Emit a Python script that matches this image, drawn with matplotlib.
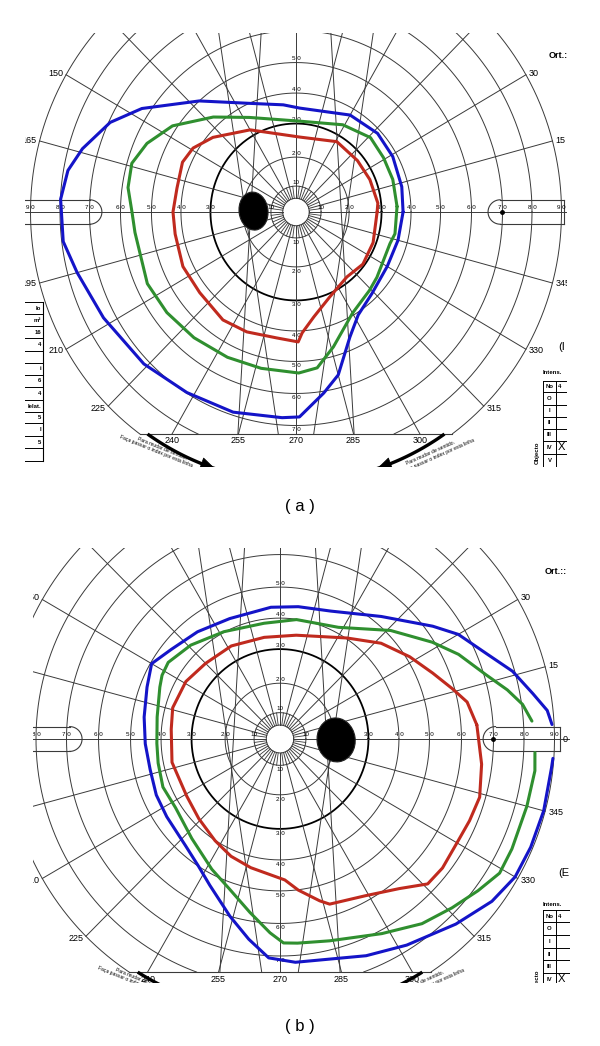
import numpy as np
import matplotlib
matplotlib.use("Agg")
import matplotlib.pyplot as plt
from matplotlib.patches import Ellipse, FancyArrowPatch

plt.rcParams["font.family"] = ["Liberation Sans", "DejaVu Sans"]

W, H = 600, 1046
GRID = "#3a3a3a"
BLUE, GREEN, RED = "#1414c8", "#2f8f2f", "#c02a1e"

# printed scale of the Goldmann form: eccentricity -> radius on the paper
ring_ecc = [0, 5, 10, 20, 30, 40, 50, 60, 70, 80, 90]
ring_pos = [0, 4.5, 8.5, 18, 29, 39, 49, 59.5, 70, 80, 90]
meridians = np.arange(0, 360, 15)

# (a) isopters: meridian (deg) and eccentricity (deg)
a_blue_mer = [0, 13, 29, 43, 60, 88, 97, 114, 132, 147, 155, 164, 170, 177, 187, 195,
              208, 224, 238, 252, 266, 271, 279, 285, 294, 302, 314, 330, 345]
a_blue_ecc = [36.3, 36.8, 37.5, 37.8, 36.7, 34.1, 35.4, 39.0, 49.0, 62.3, 69.5, 75.3, 78.5, 79.9, 79.5, 76.8,
              73.9, 71.7, 69.8, 69.0, 67.6, 67.2, 60.1, 55.3, 44.9, 39.8, 37.1, 35.7, 35.8]
a_green_mer = [3, 18, 31, 44, 61, 87, 117, 132, 146, 156, 164, 172, 180, 187, 205, 217,
               230, 244, 257, 271, 278, 286, 300, 314, 322, 342, 348]
a_green_ecc = [34.3, 34.5, 34.6, 35.1, 32.7, 29.8, 34.8, 41.9, 50.5, 55.3, 57.9, 57.5, 55.6, 55.0, 55.6, 54.8,
               53.8, 53.0, 52.6, 52.8, 51.6, 46.0, 38.3, 35.8, 34.8, 33.5, 34.3]
a_red_mer = [0, 6, 23, 39, 59, 87, 120, 139, 149, 157, 169, 180, 190, 205, 219, 235,
             247, 261, 271, 273, 280, 292, 309, 323, 339]
a_red_ecc = [27.5, 27.9, 27.2, 26.8, 26.9, 24.6, 31.1, 37.3, 40.7, 41.8, 41.1, 41.7, 41.6, 42.3, 42.0, 43.2,
             42.7, 41.8, 42.6, 39.7, 34.9, 30.2, 27.4, 28.4, 28.0]
a_blind = (-14.4, 0.3, 9.8, 12.5)  # x, y, width, height (deg)

# (b) isopters
b_blue_mer = [3, 6, 10, 16, 22, 30, 36, 50, 68, 82, 94, 113, 128, 141, 150, 159, 171, 182, 193,
              204, 214, 228, 237, 244, 254, 261, 267, 274, 292, 302, 314, 323, 330, 337, 345, 354, 356]
b_blue_ecc = [89.3, 88.1, 84.2, 79.3, 73.2, 67.5, 61.9, 51.6, 44.5, 43.1, 42.6, 42.2, 43.9, 45.9, 48.6, 46.7,
              45.1, 44.2, 43.7, 44.4, 44.8, 46.3, 49.0, 52.5, 59.5, 65.4, 70.7, 72.2, 75.4, 78.4, 83.0,
              87.0, 89.0, 89.3, 89.5, 89.5, 89.7]
b_green_mer = [4, 8, 12, 17, 25, 32, 44, 62, 82, 98, 118, 134, 146, 152, 157, 170, 182, 191, 202,
               213, 228, 242, 251, 260, 267, 271, 275, 284, 298, 308, 316, 323, 329, 335, 345, 353, 357]
b_green_ecc = [82.8, 80.3, 76.2, 70.7, 64.6, 58.9, 50.4, 40.8, 38.9, 37.7, 39.2, 42.1, 44.2, 43.8, 42.8,
               40.9, 40.4, 40.7, 41.4, 40.8, 43.2, 47.6, 51.1, 56.8, 62.6, 65.8, 66.1, 67.1, 71.1, 75.6,
               78.4, 81.3, 84.0, 83.9, 83.8, 84.2, 83.7]
b_red_mer = [4, 11, 16, 23, 32, 43, 56, 81, 99, 118, 135, 149, 164, 175, 192, 211, 224, 237, 247,
             257, 272, 277, 284, 287, 299, 309, 316, 322, 330, 337, 344, 353]
b_red_ecc = [64.7, 62.5, 58.8, 54.4, 50.1, 45.3, 39.3, 33.9, 33.2, 34.0, 34.5, 36.0, 36.6, 35.8, 36.2,
             35.7, 37.0, 39.1, 41.1, 42.6, 45.5, 49.1, 53.8, 55.7, 57.8, 62.1, 67.3, 67.6, 67.0, 67.5,
             68.1, 66.6]
b_blind = (18.4, -0.3, 12.5, 14.2)

fig = plt.figure(figsize=(W / 100, H / 100), dpi=100)


def chart_r(e):
    return np.interp(e, ring_ecc, ring_pos)


def polar_xy(mer, ecc):
    t = np.radians(mer)
    return np.asarray(ecc) * np.cos(t), np.asarray(ecc) * np.sin(t)


def make_panel(frame, center, scale):
    x0, y0, x1, y1 = frame
    cx, cy = center
    sx, sy = scale
    ax = fig.add_axes([x0 / W, 1 - y1 / H, (x1 - x0) / W, (y1 - y0) / H])
    ax.set_xlim((x0 - cx) / sx, (x1 - cx) / sx)
    ax.set_ylim((cy - y1) / sy, (cy - y0) / sy)
    ax.axis("off")

    def px(x, y):  # paper pixel -> chart degrees
        return (x - cx) / sx, (cy - y) / sy
    return ax, px, sy / sx


def ring_label(e):
    return "10" if e == 10 else f"{e // 10} 0"


def draw_chart(ax, y_cut):
    t = np.linspace(0, 2 * np.pi, 2400)
    r5 = chart_r(5)
    ax.plot(r5 * np.cos(t), r5 * np.sin(t), color=GRID, lw=0.7)
    for e in range(10, 100, 10):
        r = chart_r(e)
        x, y = r * np.cos(t), r * np.sin(t)
        y[y < y_cut] = np.nan
        ax.plot(x, y, color="black" if e == 30 else GRID, lw=1.3 if e == 30 else 0.7)
    for m in meridians:
        c, s = np.cos(np.radians(m)), np.sin(np.radians(m))
        r_end = 100 if m in (0, 180) else 90
        if s < 0 and r_end * s < y_cut:
            r_end = y_cut / s
        ax.plot([r5 * c, r_end * c], [r5 * s, r_end * s], color=GRID, lw=0.7)
    for m in meridians + 7.5:
        c, s = np.cos(np.radians(m)), np.sin(np.radians(m))
        ax.plot([r5 * c, chart_r(10) * c], [r5 * s, chart_r(10) * s], color=GRID, lw=0.6)
    xe = np.sqrt(90 ** 2 - y_cut ** 2)
    ax.plot([-xe, xe], [y_cut, y_cut], color=GRID, lw=0.8)
    # the straight non-radial guide lines of the form
    for xt, xb in [(-11.5, -19.7), (11.5, 19.7), (-27, -6), (27, 6)]:
        ax.plot([xt, xb], [64, y_cut], color=GRID, lw=0.7)

    # ring numbers along the meridians
    for e in range(10, 100, 10):
        r = chart_r(e)
        for sg in (1, -1):
            ax.text(sg * r, 0.5, ring_label(e), ha="center", va="bottom", fontsize=4.5, clip_on=True)
    for e in range(10, 60, 10):
        ax.text(0, chart_r(e) + 0.5, ring_label(e), ha="center", va="bottom", fontsize=4.5, clip_on=True)
    for e in range(10, 80, 10):
        ax.text(0, -chart_r(e) - 0.6, ring_label(e), ha="center", va="top", fontsize=4.5, clip_on=True)

    # meridian numbers (only those that fall on the scanned sheet)
    y_top = ax.get_ylim()[1]
    for m in meridians:
        c, s = np.cos(np.radians(m)), np.sin(np.radians(m))
        if m in (0, 180) or 90 * s > y_top - 1:
            continue
        if s < 0 and 90 * s < y_cut:
            ax.text(y_cut * c / s, y_cut - 0.8, str(m), ha="center", va="top", fontsize=6.5, clip_on=True)
            continue
        ha = "left" if c > 0.25 else "right" if c < -0.25 else "center"
        va = "center" if abs(s) < 0.9 else ("bottom" if s > 0 else "top")
        ax.annotate(str(m), (90 * c, 90 * s), xytext=(2.5 * c, 2.5 * s), textcoords="offset points",
                    ha=ha, va=va, fontsize=6.5, clip_on=True)


def draw_slot(ax, tip, far, half, k, closed=False):
    rx = half * k
    d = np.sign(far - tip)
    c = tip + d * rx
    phi = np.linspace(-np.pi / 2, np.pi / 2, 60)
    ax.plot(c - d * rx * np.cos(phi), half * np.sin(phi), color=GRID, lw=0.8)
    for y in (half, -half):
        ax.plot([c, far], [y, y], color=GRID, lw=0.8)
    if closed:
        ax.plot([far, far], [-half, half], color=GRID, lw=0.8)


def draw_isopter(ax, mer, ecc, color, closed=True):
    x, y = polar_xy(mer, ecc)
    if closed:
        x, y = np.append(x, x[0]), np.append(y, y[0])
    ax.plot(x, y, color=color, lw=2.2, solid_joinstyle="round", solid_capstyle="round", zorder=4)


def draw_blind(ax, spot):
    x, y, w, h = spot
    ax.add_patch(Ellipse((x, y), w, h, angle=8, facecolor="black", edgecolor="#222", lw=0.8, zorder=5))


def draw_turn_arrows(ax, y_cut, r=88.5):
    a0 = 180 + np.degrees(np.arcsin(-y_cut / r))
    for start, stop, head, sg in [(a0, 254, 251, 1), (540 - a0, 286, 289, -1)]:
        t = np.radians(np.linspace(start, stop, 60))
        ax.plot(r * np.cos(t), r * np.sin(t), color="black", lw=2.4, solid_capstyle="butt")
        h0, h1 = np.radians(head - sg * 3), np.radians(head + sg * 1.5)
        ax.add_patch(FancyArrowPatch((r * np.cos(h0), r * np.sin(h0)), (r * np.cos(h1), r * np.sin(h1)),
                                     arrowstyle="-|>,head_length=0.8,head_width=0.35", mutation_scale=12,
                                     color="black", lw=0.5))
    lines = [(91.5, 234, -22, "left", "Para mudar de sentido,"),
             (95.0, 231, -22, "left", "Faça passar o index por esta linha"),
             (92.5, 305.5, 24, "right", "Para mudar de sentido."),
             (96.0, 309, 24, "right", "Faça passar o index por esta linha")]
    for rr, ang, rot, ha, txt in lines:
        t = np.radians(ang)
        ax.text(rr * np.cos(t), rr * np.sin(t), txt, rotation=rot, rotation_mode="anchor",
                ha=ha, va="center", fontsize=3.6, clip_on=True)


def draw_box_table(ax, px, top_y, rows, x0=543, x1=556, x2=572):
    ys = [top_y] + rows
    for y in ys:
        ax.plot(*zip(px(x0, y), px(x2, y)), color="black", lw=0.7)
    for x in (x0, x1):
        ax.plot(*zip(px(x, ys[0]), px(x, 1100)), color="black", lw=0.7)
    labels = ["No", "O", "I", "II", "III", "IV", "V"]
    for i in range(min(len(ys), len(labels))):
        y_lo = ys[i + 1] if i + 1 < len(ys) else ys[i] + 12.5
        ym = (ys[i] + y_lo) / 2
        ax.text(*px((x0 + x1) / 2, ym), labels[i], ha="center", va="center",
                fontsize=4.3, fontweight="bold", clip_on=True)
        if i == 0:
            ax.text(*px(560, ym), "4", ha="center", va="center", fontsize=4.3, fontweight="bold", clip_on=True)
        if i == 5:
            ax.text(*px(561, ym), "X", ha="center", va="center", fontsize=8, clip_on=True)


# ---------------- panel (a)
ax_a, pa, ka = make_panel((25, 33, 567, 467), (296, 212), (2.95, 3.05))
draw_chart(ax_a, -72.8)
draw_slot(ax_a, -65.8, -100, 4.0, ka)
draw_slot(ax_a, 65.1, 90.8, 4.0, ka, closed=True)
ax_a.plot(chart_r(70), 0, "o", color="black", ms=2.5)
ax_a.text(91.8, 0, "0", ha="left", va="center", fontsize=6.5, clip_on=True)
draw_isopter(ax_a, a_blue_mer, a_blue_ecc, BLUE)
draw_isopter(ax_a, a_green_mer, a_green_ecc, GREEN)
draw_isopter(ax_a, a_red_mer, a_red_ecc, RED)
draw_blind(ax_a, a_blind)
draw_turn_arrows(ax_a, -72.8)
ax_a.text(*pa(549, 55), "Ort.:", ha="left", va="center", fontsize=6.5, fontweight="bold", clip_on=True)
ax_a.text(*pa(558, 347), "(I", ha="left", va="center", fontsize=8, clip_on=True)
ax_a.text(*pa(543, 373), "Intens.", ha="left", va="center", fontsize=4.3, fontweight="bold", clip_on=True)
draw_box_table(ax_a, pa, 381, [392, 405, 417, 429, 441, 454, 467])
ax_a.text(*pa(537, 441), "Objecto", rotation=90, ha="center", va="top", fontsize=4.3,
          fontweight="bold", clip_on=True)
# left-hand table cut by the scan edge
left_rows = [302, 314, 326, 338, 351, 363, 375, 387, 400, 412, 423, 436, 448, 461]
left_text = ["lo", "m²", "16", "4", "", "i", "6", "4", "lelat.", "5", "I", "5", ""]
ax_a.plot(*zip(pa(43, left_rows[0]), pa(43, left_rows[-1])), color="black", lw=0.8)
for y in left_rows:
    ax_a.plot(*zip(pa(15, y), pa(43, y)), color="black", lw=0.7)
for y0, y1, s in zip(left_rows[:-1], left_rows[1:], left_text):
    ax_a.text(*pa(41, (y0 + y1) / 2), s, ha="right", va="center", fontsize=4.3,
              fontweight="bold", clip_on=True)

# ---------------- panel (b)
ax_b, pb, kb = make_panel((33, 548, 570, 983), (280, 739), (3.05, 3.1))
draw_chart(ax_b, -75.2)
draw_slot(ax_b, -64.9, -100, 4.0, kb)
draw_slot(ax_b, 66.6, 91.8, 4.0, kb, closed=True)
ax_b.plot(chart_r(70), 0, "o", color="black", ms=2.5)
ax_b.text(92.6, 0, "0", ha="left", va="center", fontsize=6.5, clip_on=True)
draw_isopter(ax_b, b_blue_mer, b_blue_ecc, BLUE, closed=False)
draw_isopter(ax_b, b_green_mer, b_green_ecc, GREEN, closed=False)
draw_isopter(ax_b, b_red_mer, b_red_ecc, RED)
draw_blind(ax_b, b_blind)
draw_turn_arrows(ax_b, -75.2)
ax_b.text(*pb(545, 572), "Ort.::", ha="left", va="center", fontsize=6.5, fontweight="bold", clip_on=True)
ax_b.text(*pb(558, 873), "(E", ha="left", va="center", fontsize=8, clip_on=True)
ax_b.text(*pb(543, 904), "Intens.", ha="left", va="center", fontsize=4.3, fontweight="bold", clip_on=True)
draw_box_table(ax_b, pb, 910, [922, 935, 948, 960, 973, 986])
ax_b.text(*pb(537, 969), "Objecto", rotation=90, ha="center", va="top", fontsize=4.3,
          fontweight="bold", clip_on=True)

fig.text(0.5, 1 - 507 / H, "( a )", ha="center", va="center", fontsize=12)
fig.text(0.5, 1 - 1027 / H, "( b )", ha="center", va="center", fontsize=12)

fig.savefig("out.png", dpi=100, facecolor="white")
